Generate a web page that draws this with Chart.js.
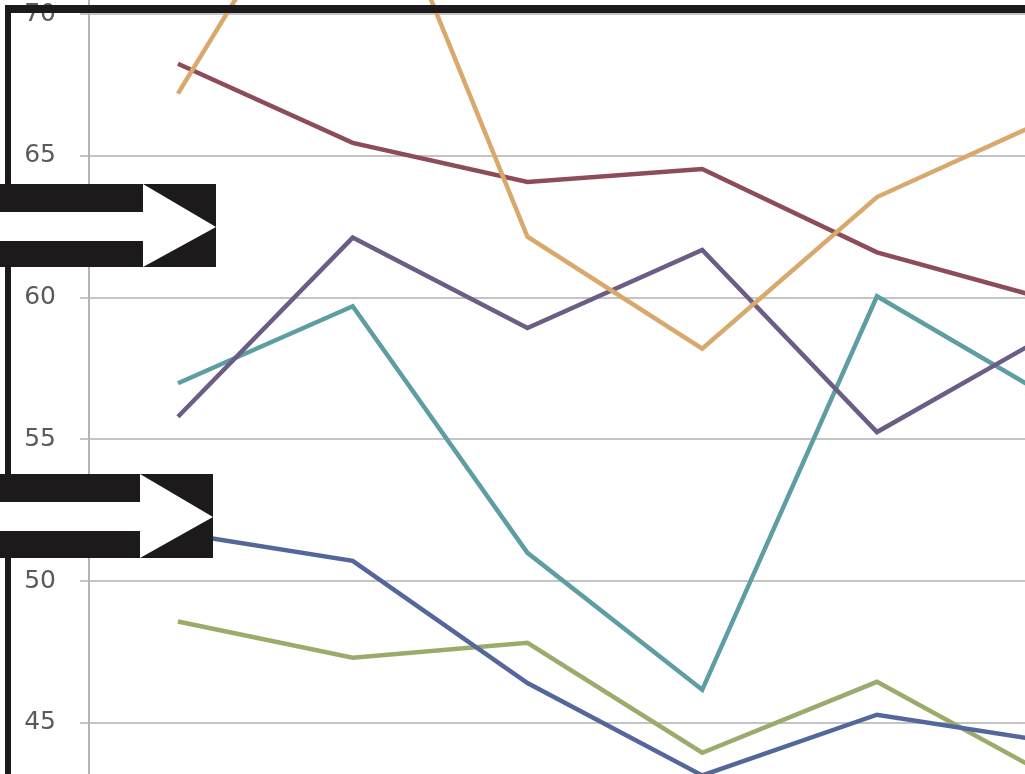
<!DOCTYPE html>
<html>
<head>
<meta charset="utf-8">
<script src="https://cdn.jsdelivr.net/npm/chart.js@4/dist/chart.umd.min.js"></script>
<style>
  html, body { margin: 0; padding: 0; background: #fff; overflow: hidden; }
  #wrap { position: absolute; left: 0; top: 0; width: 1025px; height: 774px; }
  #marks { position: absolute; left: 0; top: 0; }
</style>
</head>
<body>
<div id="wrap">
  <canvas id="myChart" width="1025" height="774"></canvas>
  <svg id="marks" width="1025" height="774">
    <rect x="5" y="5" width="1020" height="8" fill="#1c1a1b"/>
    <rect x="5" y="5" width="6" height="769" fill="#1c1a1b"/>
    <rect x="0" y="184" width="216" height="83" fill="#1c1a1b"/>
    <polygon points="0,212 143,212 143,184 216,227 143,267 143,241 0,241" fill="#fff"/>
    <rect x="0" y="474" width="213" height="84" fill="#1c1a1b"/>
    <polygon points="0,502 140,502 140,474 213,517 140,558 140,531 0,531" fill="#fff"/>
  </svg>
</div>
<script>
// six points per series, the last one sits just past the right edge
var categories = [0, 1, 2, 3, 4, 5];
var yTicks = [45, 50, 55, 60, 65, 70];

var orange = [67.2, 77.3, 62.15, 58.2, 63.55, 66.35];
var brown  = [68.25, 65.46, 64.08, 64.54, 61.6, 59.9];
var purple = [55.8, 62.12, 58.93, 61.68, 55.26, 58.76];
var teal   = [56.98, 59.7, 51.0, 46.17, 60.05, 56.44];
var blue   = [51.7, 50.72, 46.41, 43.15, 45.29, 44.33];
var green  = [48.58, 47.3, 47.83, 43.95, 46.45, 43.08];

function pts(vals) {
    return vals.map(function (v, i) { return { x: categories[i], y: v }; });
}

function series(name, vals, color) {
    return {
        label: name,
        data: pts(vals),
        borderColor: color,
        borderWidth: 4.5,
        pointRadius: 0,
        tension: 0,
        fill: false
    };
}

var ctx = document.getElementById('myChart').getContext('2d');
var myChart = new Chart(ctx, {
    type: 'line',
    data: {
        datasets: [
            series('orange', orange, '#d9a86c'),
            series('brown', brown, '#8c4d58'),
            series('purple', purple, '#6b5d85'),
            series('teal', teal, '#5e9ea3'),
            series('blue', blue, '#54679b'),
            series('green', green, '#9aab6c')
        ]
    },
    options: {
        responsive: false,
        animation: false,
        layout: { padding: 0 },
        plugins: {
            legend: { display: false },
            tooltip: { enabled: false }
        },
        scales: {
            x: {
                type: 'linear',
                min: -0.509,
                max: 4.847,
                display: false
            },
            y: {
                min: 43.2,
                max: 70.5,
                afterBuildTicks: function (s) {
                    s.ticks = yTicks.map(function (v) { return { value: v }; });
                },
                afterFit: function (s) {
                    s.width = 89;
                    s.paddingTop = 0;
                    s.paddingBottom = 0;
                },
                grid: {
                    color: '#c4c4c4',
                    lineWidth: 2,
                    tickLength: 9
                },
                border: { color: '#b4b4b4', width: 2 },
                ticks: {
                    color: '#5a5a5a',
                    padding: 24,
                    font: { family: 'DejaVu Sans', size: 25 }
                }
            }
        }
    }
});
</script>
</body>
</html>
